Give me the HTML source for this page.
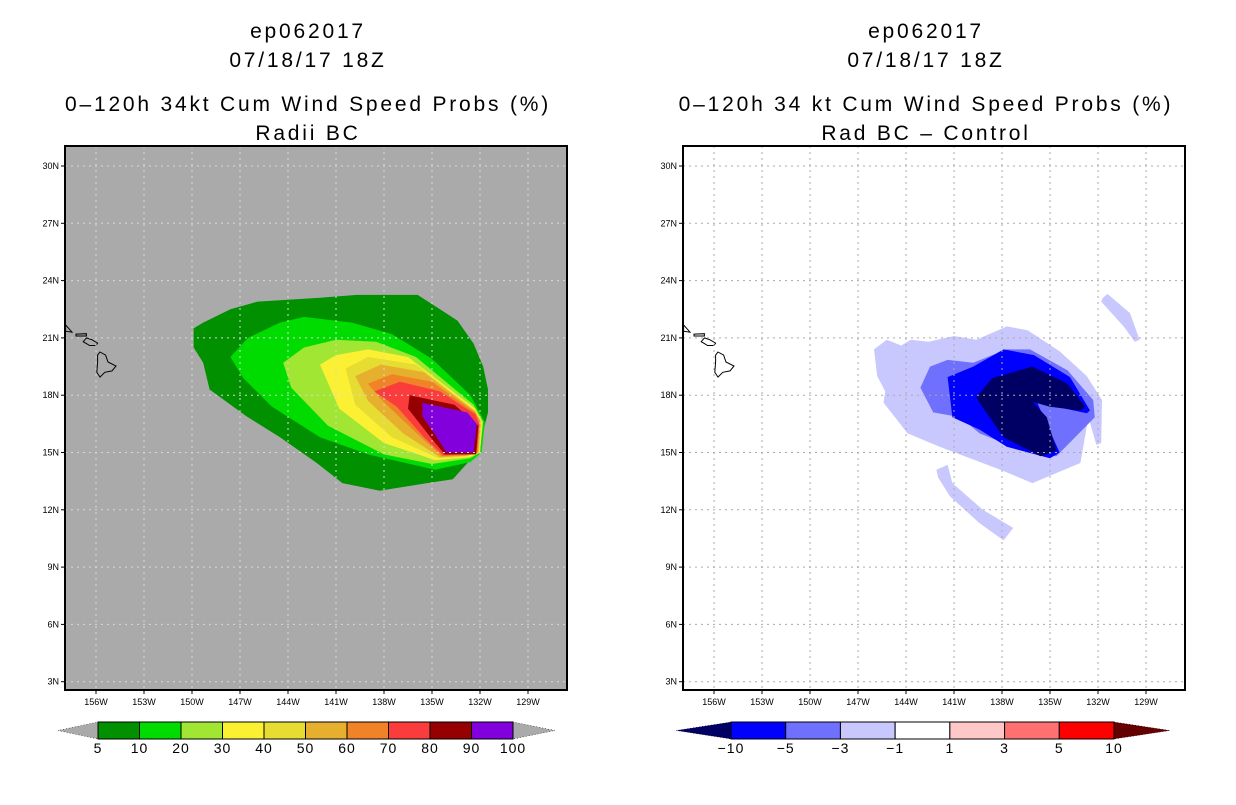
<!DOCTYPE html>
<html><head><meta charset="utf-8"><style>
body{margin:0;background:#fff;width:1236px;height:800px;overflow:hidden}
svg text{font-family:"Liberation Sans",sans-serif}
</style></head><body>
<svg id="root" width="1236" height="800" xmlns="http://www.w3.org/2000/svg"></svg>
<script>
// ---- data (lon in degrees W, lat in degrees N) ----
const latTicks=[30,27,24,21,18,15,12,9,6,3];
const lonTicks=[156,153,150,147,144,141,138,135,132,129];
const leftLevels=["5","10","20","30","40","50","60","70","80","90","100"];
const leftColors=["#009000","#00dc00","#a0e632","#fbf032","#e6dc32","#e6af2d","#f08228","#fa3c3c","#960000","#8200dc"];
const rightLevels=["-10","-5","-3","-1","1","3","5","10"];
const rightColors=["#0000ff","#7070ff","#c8c8ff","#ffffff","#ffc8c8","#ff7070","#ff0000"];
const leftContours=[
 {c:0,p:[[149.9,21.5],[149.3,21.8],[147.6,22.5],[145.9,22.9],[142,23.1],[139.7,23.25],[135.9,23.25],[134.5,22.5],[133.4,21.9],[132.4,20.7],[131.8,19.5],[131.5,18.3],[131.5,17.1],[131.9,15.8],[132.4,14.8],[133.7,13.6],[135.3,13.4],[138.25,13.0],[140.6,13.4],[142.2,14.45],[144.5,15.8],[146.6,16.9],[148.9,18.3],[149.3,19.7],[149.9,20.5]]},
 {c:1,p:[[147.6,20.0],[146.5,21.0],[144.5,21.8],[143.0,22.1],[140.0,21.8],[137.5,21.2],[135.0,19.9],[132.6,18.0],[131.7,16.6],[131.9,15.0],[132.6,14.5],[134.8,14.1],[139.0,14.9],[142.0,15.8],[145.0,17.4],[146.8,18.9]]},
 {c:2,p:[[144.3,19.7],[143.0,20.5],[141.0,20.9],[138.5,20.8],[136.0,20.0],[132.4,17.5],[131.8,16.6],[132.0,15.0],[132.6,14.7],[135.0,14.4],[138.0,14.9],[141.5,16.4],[143.8,18.4]]},
 {c:3,p:[[142.0,19.6],[141.0,20.1],[139.0,20.4],[136.5,20.0],[132.3,17.3],[131.85,16.6],[132.0,15.0],[132.7,14.75],[134.8,14.6],[138.0,15.5],[140.8,17.3]]},
 {c:4,p:[[140.4,19.4],[139.0,20.0],[136.0,19.6],[132.3,17.2],[131.9,16.6],[132.05,15.0],[132.8,14.8],[134.6,14.7],[137.5,15.8],[139.8,17.5]]},
 {c:5,p:[[139.8,19.0],[138.2,19.6],[135.5,19.2],[132.3,17.15],[131.95,16.6],[132.1,15.0],[132.85,14.82],[134.5,14.75],[136.8,16.0],[139.0,17.7]]},
 {c:6,p:[[139.0,18.6],[137.5,19.1],[135.0,18.7],[132.3,17.1],[132.0,16.6],[132.15,15.0],[132.9,14.85],[134.4,14.8],[136.2,16.2],[138.2,17.8]]},
 {c:7,p:[[138.6,18.2],[137.0,18.7],[134.5,18.2],[132.3,17.0],[132.05,16.5],[132.2,14.95],[134.3,14.85],[135.5,15.8],[137.2,17.4]]},
 {c:8,p:[[136.4,18.0],[133.6,17.5],[132.1,16.4],[132.25,14.9],[134.2,14.9],[135.0,15.7],[136.5,17.3]]},
 {c:9,p:[[135.6,17.6],[132.8,17.1],[132.2,16.5],[132.4,15.0],[134.1,15.0],[134.7,15.8],[135.6,16.9]]}
];
const rightContours=[
 {c:"#c8c8ff",p:[[146.0,20.4],[145.2,20.9],[144.3,20.6],[143.7,20.9],[142.6,20.8],[141.0,21.1],[139.6,20.9],[137.7,21.6],[136.4,21.4],[134.4,20.3],[132.7,19.0],[131.75,17.75],[131.8,15.5],[132.1,15.4],[132.6,16.85],[133.1,14.45],[136.1,13.4],[138.1,14.1],[141.9,15.3],[143.9,16.0],[145.4,17.6],[145.3,18.2],[145.8,19.0]]},
 {c:"#c8c8ff",p:[[142.1,14.1],[141.4,14.35],[141.1,13.4],[139.2,12.0],[137.3,11.05],[137.9,10.4],[139.4,11.3],[141.25,12.7],[142.0,13.7]]},
 {c:"#c8c8ff",p:[[131.7,23.1],[131.4,23.3],[130.0,22.3],[129.4,20.9],[129.7,20.8],[130.4,21.6],[131.8,22.9]]},
 {c:"#7070ff",p:[[143.1,18.4],[142.5,19.5],[141.4,19.85],[139.8,19.7],[137.7,20.4],[136.25,20.4],[133.9,19.3],[132.3,17.75],[132.2,16.85],[134.6,14.8],[136.4,15.0],[139.4,16.0],[140.6,16.85],[142.3,17.1]]},
 {c:"#0000ff",p:[[141.4,18.95],[139.8,19.5],[137.9,20.4],[136.0,20.1],[133.75,18.95],[132.5,17.2],[132.7,17.05],[135.8,17.6],[134.4,15.0],[135.0,14.7],[137.7,15.3],[139.4,16.2],[141.1,16.85]]},
 {c:"#000064",p:[[139.6,17.9],[138.6,18.9],[136.1,19.5],[133.9,18.6],[132.8,17.4],[133.1,17.2],[135.0,17.4],[136.1,17.65],[135.2,16.85],[134.6,15.1],[135.6,14.8],[137.9,15.8],[139.4,17.6]]}
];
const hawaii=[
 [[155.75,20.26],[155.4,20.1],[155.25,19.74],[154.75,19.53],[155.0,19.27],[155.45,19.2],[155.75,18.95],[155.95,19.2],[155.9,19.74],[155.9,20.1]],
 [[156.6,21.0],[156.25,20.9],[155.9,20.73],[156.0,20.6],[156.4,20.6],[156.6,20.7],[156.8,20.8]],
 [[157.25,21.2],[156.6,21.22],[156.6,21.1],[157.25,21.1]],
 [[157.9,21.68],[157.6,21.4],[157.5,21.3],[157.9,21.35]]
];
// ---- drawing ----
const NS="http://www.w3.org/2000/svg";
const root=document.getElementById('root');
function mk(t,a,parent){const e=document.createElementNS(NS,t);for(const k in a)e.setAttribute(k,a[k]);(parent||root).appendChild(e);return e;}
function panel(ox,opt){
 const L=ox,T=146,W=502,H=544;
 const xs=lon=>L+31+(156-lon)*16;
 const ys=lat=>166+(30-lat)*19.1;
 const g=mk('g',{});
 
 
 const cid='clip'+ox;
 const cp=mk('clipPath',{id:cid},g);mk('rect',{x:L,y:T,width:W,height:H},cp);
 const bg=mk('rect',{x:L,y:T,width:W,height:H,fill:opt.bg},g);
 
 
 const inner=mk('g',{'clip-path':`url(#${cid})`},g);
 opt.contours.forEach((ct,i)=>{
  const d='M'+ct.p.map(q=>xs(q[0]).toFixed(1)+','+ys(q[1]).toFixed(1)).join('L')+'Z';
  const pe=mk('path',{d:d,fill:typeof ct.c==='number'?leftColors[ct.c]:ct.c},inner);
  
  
 });
 hawaii.forEach((isl,i)=>{
  const d='M'+isl.map(q=>xs(q[0]).toFixed(1)+','+ys(q[1]).toFixed(1)).join('L')+'Z';
  const pe=mk('path',{d:d,fill:'none',stroke:'#000','stroke-width':1},inner);
  
  
 });
 lonTicks.forEach(lon=>{
  const x=xs(lon);
  mk('line',{x1:x,y1:T,x2:x,y2:T+H,stroke:opt.grid,'stroke-dasharray':'2,4','stroke-width':1},inner);
  mk('line',{x1:x,y1:T+H,x2:x,y2:T+H+4,stroke:'#000'},g);
  const t=mk('text',{x:x,y:T+H+15,'font-size':9,'text-anchor':'middle'},g);t.textContent=lon+'W';
  
  
 });
 latTicks.forEach(lat=>{
  const y=ys(lat);
  mk('line',{x1:L,y1:y,x2:L+W,y2:y,stroke:opt.grid,'stroke-dasharray':'2,4','stroke-width':1},inner);
  mk('line',{x1:L-4,y1:y,x2:L,y2:y,stroke:'#000'},g);
  const t=mk('text',{x:L-6,y:y+3,'font-size':9,'text-anchor':'end'},g);t.textContent=lat+'N';
  
  
 });
 mk('rect',{x:L,y:T,width:W,height:H,fill:'none',stroke:'#000','stroke-width':2},g);
 const cx=L+W/2-8;
 opt.titles.forEach((s,i)=>{
  const t=mk('text',{x:cx,y:[38,67,111,140][i],'font-size':21,'text-anchor':'middle','letter-spacing':2.8},g);t.textContent=s;
  
  
 });
 // colorbar
 const cb=opt.cb, n=cb.colors.length, bw=(cb.x1-cb.x0)/n, y0=722,y1=739,ym=730.5;
 const la=mk('polygon',{points:`${cb.x0},${y0} ${cb.x0},${y1} ${cb.tl},${ym}`,fill:cb.lc,stroke:'#000','stroke-width':0.5,'stroke-dasharray':'1,2'},g);
 
 
 const ra=mk('polygon',{points:`${cb.x1},${y0} ${cb.x1},${y1} ${cb.tr},${ym}`,fill:cb.rc,stroke:'#000','stroke-width':0.5,'stroke-dasharray':'1,2'},g);
 
 
 cb.colors.forEach((c,i)=>{
  const r=mk('rect',{x:cb.x0+i*bw,y:y0,width:bw,height:y1-y0,fill:c,stroke:'#000','stroke-width':1},g);
  
  
 });
 cb.labels.forEach((s,i)=>{
  const t=mk('text',{x:cb.x0+i*bw,y:753,'font-size':14,'text-anchor':'middle','letter-spacing':1},g);t.textContent=s.replace('-','\u2212');
  
  
 });
}
panel(65,{name:'radii-bc-panel',bg:'#aaaaaa',grid:'#d8d8d8',contours:leftContours,
 titles:['ep062017','07/18/17 18Z','0\u2013120h 34kt Cum Wind Speed Probs (%)','Radii BC'],
 cb:{x0:98,x1:513,tl:58,tr:555,lc:'#aaaaaa',rc:'#aaaaaa',colors:leftColors,labels:leftLevels}});
panel(683,{name:'difference-panel',bg:'#ffffff',grid:'#aaaaaa',contours:rightContours,
 titles:['ep062017','07/18/17 18Z','0\u2013120h 34 kt Cum Wind Speed Probs (%)','Rad BC \u2013 Control'],
 cb:{x0:731,x1:1114,tl:676,tr:1170,lc:'#000064',rc:'#640000',colors:rightColors,labels:rightLevels}});
</script>
</body></html>
